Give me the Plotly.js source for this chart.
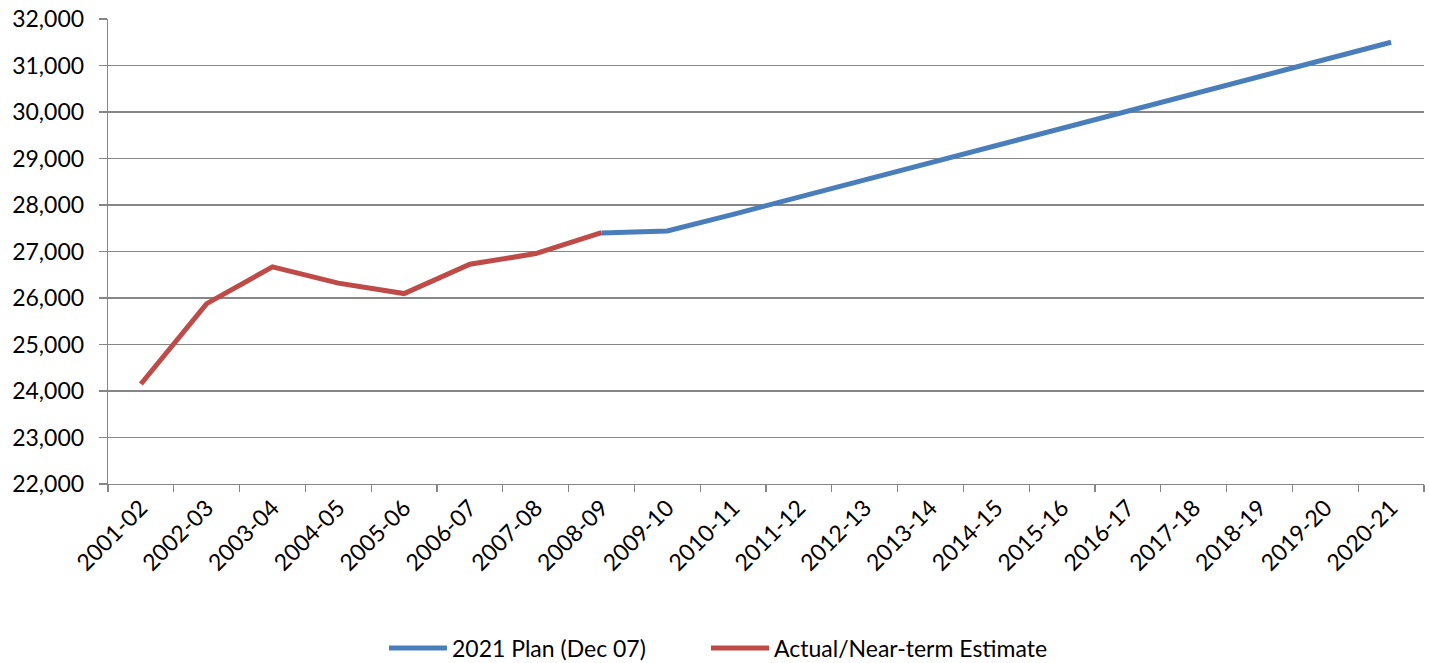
<!DOCTYPE html>
<html>
<head>
<meta charset="utf-8">
<script src="https://cdn.plot.ly/plotly-3.0.1.min.js"></script>
<style>
html,body{margin:0;padding:0;background:#fff;}
#chart{width:1430px;height:663px;}
</style>
</head>
<body>
<div id="chart"></div>
<script>
const categories = ["2001-02","2002-03","2003-04","2004-05","2005-06","2006-07","2007-08","2008-09","2009-10","2010-11","2011-12","2012-13","2013-14","2014-15","2015-16","2016-17","2017-18","2018-19","2019-20","2020-21"];

const planCategories = ["2008-09","2009-10","2010-11","2011-12","2012-13","2013-14","2014-15","2015-16","2016-17","2017-18","2018-19","2019-20","2020-21"];
const planValues = [27400,27440,27800,28170,28540,28910,29280,29650,30020,30390,30760,31130,31500];

const actualCategories = ["2001-02","2002-03","2003-04","2004-05","2005-06","2006-07","2007-08","2008-09"];
const actualValues = [24150,25880,26670,26320,26095,26725,26955,27405];

const seriesNames = ["2021 Plan (Dec 07)", "Actual/Near-term Estimate"];
const yTicks = [22000,23000,24000,25000,26000,27000,28000,29000,30000,31000,32000];

const font = "Lato, 'Open Sans', sans-serif";
const gridColor = "#868686";

const traces = [
  {
    x: planCategories, y: planValues, name: seriesNames[0],
    type: "scatter", mode: "lines",
    line: {color: "#4A7EBB", width: 5},
    legend: "legend"
  },
  {
    x: actualCategories, y: actualValues, name: seriesNames[1],
    type: "scatter", mode: "lines",
    line: {color: "#BE4B48", width: 5},
    legend: "legend2"
  }
];

const legendCommon = {
  orientation: "h",
  xref: "container", yref: "container",
  xanchor: "left", y: 0.0226, yanchor: "middle",
  font: {family: font, size: 23, color: "#000"},
  itemwidth: 58, bgcolor: "rgba(0,0,0,0)"
};

const layout = {
  width: 1430, height: 663,
  margin: {l: 108, r: 6, t: 19, b: 179},
  paper_bgcolor: "#fff", plot_bgcolor: "#fff",
  font: {family: font, size: 23, color: "#000"},
  showlegend: true,
  legend: Object.assign({}, legendCommon, {x: 0.2685}),
  legend2: Object.assign({}, legendCommon, {x: 0.4937}),
  xaxis: {
    type: "category",
    categoryorder: "array", categoryarray: categories,
    range: [-0.5, categories.length - 0.5],
    tickson: "boundaries",
    ticks: "outside", ticklen: 7, tickcolor: gridColor, tickwidth: 1.3,
    showgrid: false,
    showline: true, linecolor: gridColor, linewidth: 1.3,
    tickangle: -45,
    tickfont: {family: font, size: 23, color: "#000"},
    automargin: false,
    fixedrange: true
  },
  yaxis: {
    range: [22000, 32000],
    tickvals: yTicks,
    tickformat: ",d",
    ticks: "outside", ticklen: 8, tickcolor: gridColor, tickwidth: 1.3,
    ticklabelstandoff: 10,
    showgrid: true, gridcolor: gridColor, gridwidth: 1.3,
    showline: true, linecolor: gridColor, linewidth: 1.3,
    zeroline: false,
    tickfont: {family: font, size: 23, color: "#000"},
    automargin: false,
    fixedrange: true
  }
};

Plotly.newPlot("chart", traces, layout, {displayModeBar: false, staticPlot: true});
</script>
</body>
</html>
